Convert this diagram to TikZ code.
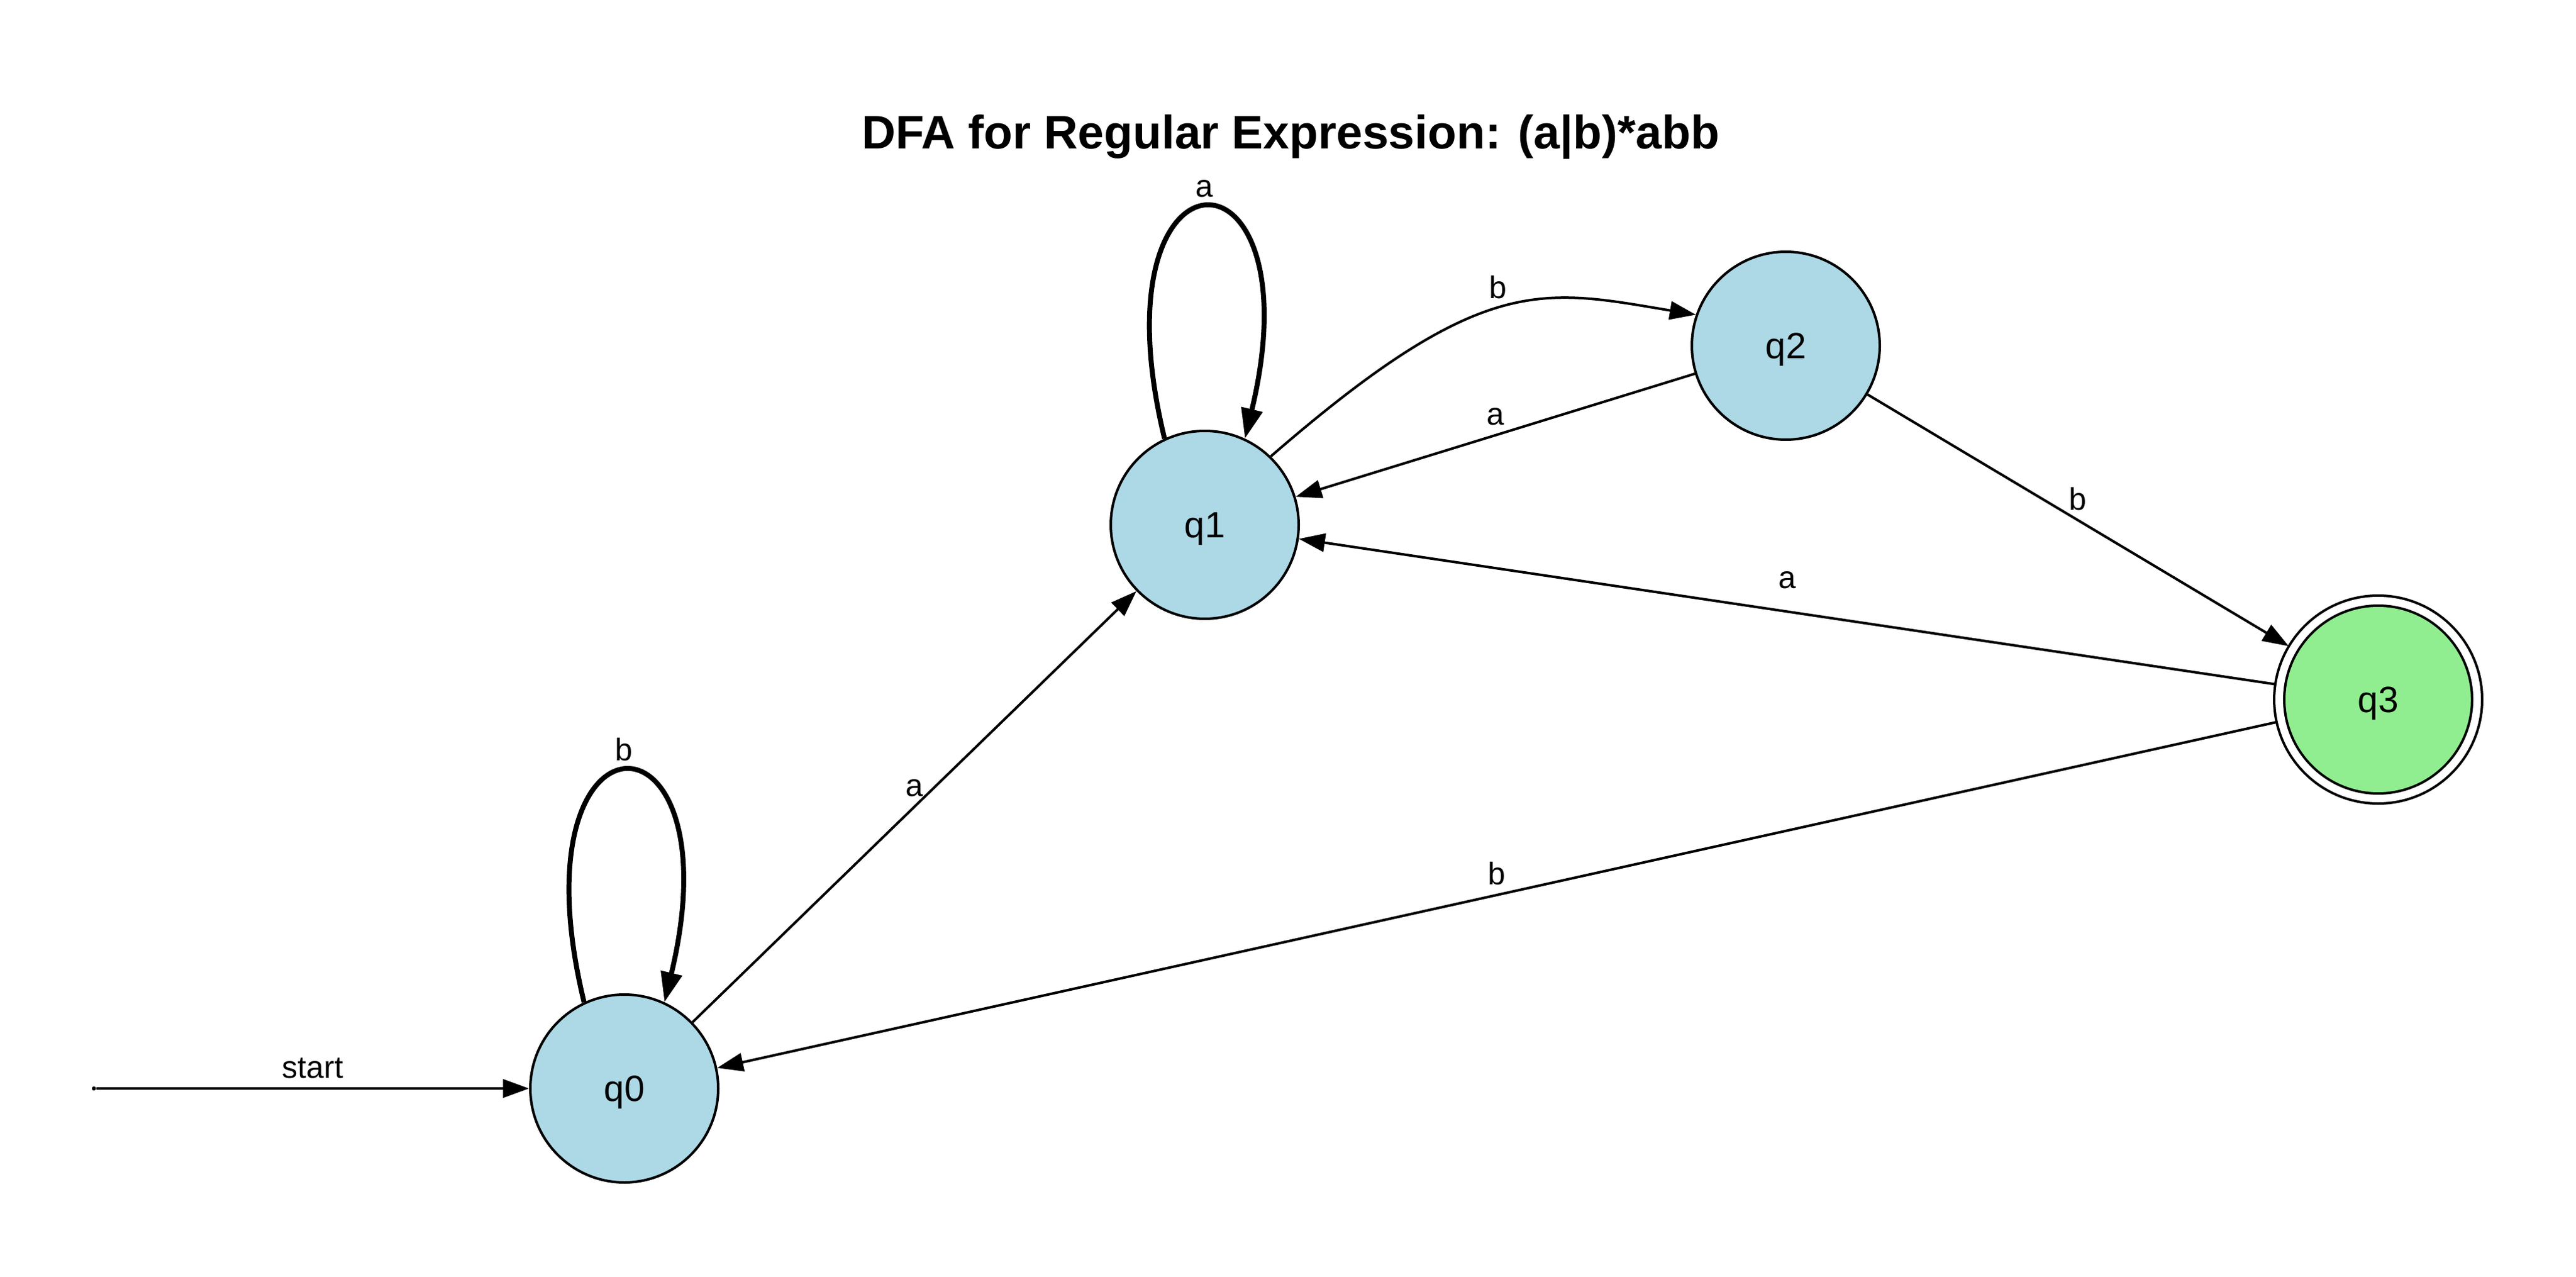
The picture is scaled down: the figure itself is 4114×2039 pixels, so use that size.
\documentclass[tikz,border=0pt]{standalone}
\usepackage{fontspec}
\setmainfont{Liberation Sans}
\usetikzlibrary{arrows.meta}
\definecolor{statefill}{RGB}{173,216,230}
\definecolor{acceptfill}{RGB}{144,238,144}
\tikzstyle{state} = [circle,draw,fill=statefill,line width=0.96pt,minimum size=72pt,inner sep=0pt,text depth=0pt,font=\fontsize{14}{16}\selectfont]
\tikzstyle{accept} = [state,fill=acceptfill,double,double distance=2.88pt,minimum size=75.84pt,outer sep=2pt]
\tikzstyle{trans} = [line width=0.96pt,-{Triangle[length=10pt,width=7pt]}]
\tikzstyle{selfloop} = [line width=1.9pt,-{Triangle[length=11.5pt,width=8pt]}]
\tikzstyle{lbl} = [font=\fontsize{12}{14}\selectfont,inner sep=3.3pt]

\begin{document}
\begin{tikzpicture}[x=0.24pt,y=-0.24pt]
	\useasboundingbox (0,0) rectangle (4114,2039);
	\node at (2061,238) [anchor=base,font=\bfseries\fontsize{18}{22}\selectfont] (title) {DFA for Regular Expression: (a|b)*abb};
	
	\node at (997,1738) [state] (q0) {q0};
	\node at (1924,838) [state] (q1) {q1};
	\node at (2852,552) [state] (q2) {q2};
	\node at (3798,1117) [accept] (q3) {q3};
	\node at (150,1738) [circle,fill=black,inner sep=0pt,minimum size=1.6pt] (init) {};
	
	\draw [trans] (init) -- (q0) node [lbl,midway,above] {start};
	\draw [selfloop] (q0.115) .. controls +(-119,-490) and +(118,-490) .. (q0.65) node [lbl,pos=.5,above] {b};
	\draw [selfloop] (q1.115) .. controls +(-119,-490) and +(118,-490) .. (q1.65) node [lbl,pos=.5,above] {a};
	\draw [trans] (q0) -- (q1) node [lbl,midway,above] {a};
	\draw [trans] (q1.46) .. controls +(340,-295) and +(-246,-41) .. (q2.161) node [lbl,pos=.48,above] {b};
	\draw [trans] (q2) -- (q1) node [lbl,midway,above] {a};
	\draw [trans] (q2) -- (q3) node [lbl,midway,above] {b};
	\draw [trans] (q3) -- (q1) node [lbl,midway,above,yshift=5pt] {a};
	\draw [trans] (q3) -- (q0) node [lbl,midway,above] {b};
\end{tikzpicture}
\end{document}
